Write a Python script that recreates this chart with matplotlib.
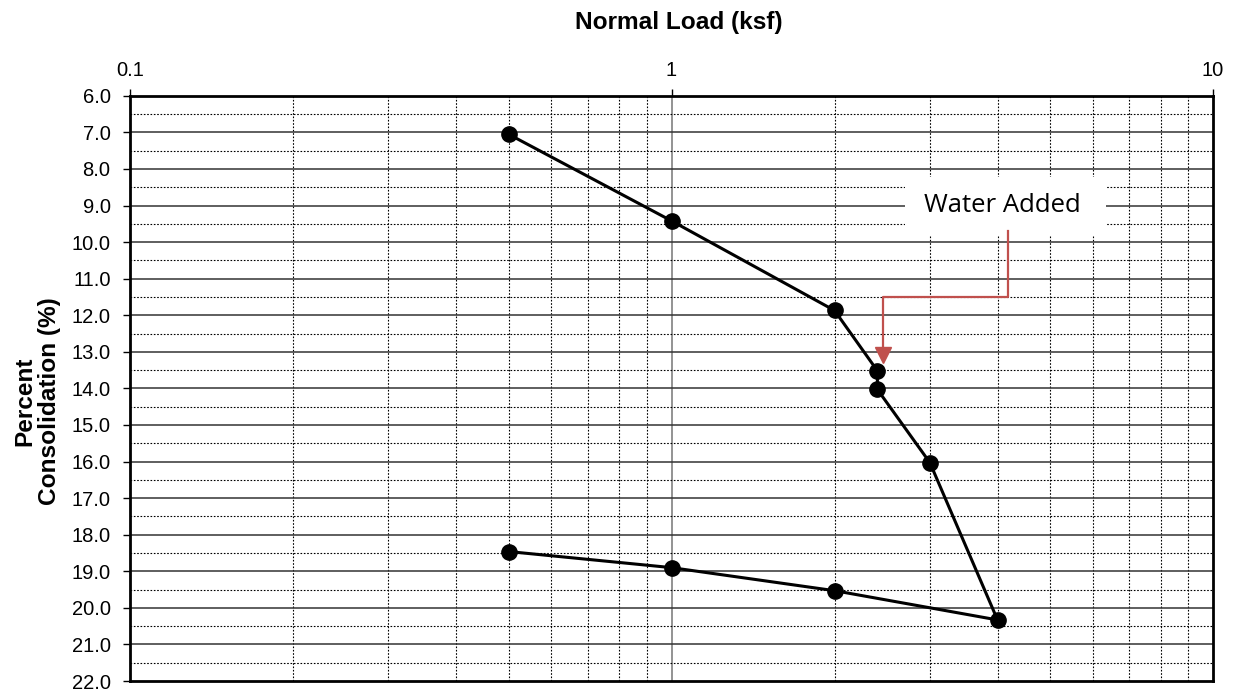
import numpy as np
import matplotlib.pyplot as plt
from matplotlib.patches import Rectangle
from matplotlib.ticker import FixedLocator, NullFormatter, NullLocator

# load steps (ksf) and percent consolidation read at each step
load = [0.5, 1.0, 2.0, 2.4, 2.4, 3.0, 4.0, 2.0, 1.0, 0.5]
consol = [7.05, 9.42, 11.87, 13.52, 14.03, 16.03, 20.33, 19.53, 18.90, 18.46]

x_ticks = [0.1, 1, 10]
x_tick_labels = ['0.1', '1', '10']
y_ticks = np.arange(6, 23, 1)

plt.rcParams['font.family'] = ['Liberation Sans', 'DejaVu Sans']

fig = plt.figure(figsize=(12.35, 6.94), dpi=100)
ax = fig.add_axes([0.1053, 0.0187, 0.8769, 0.8433])

ax.set_xscale('log')
ax.set_xlim(0.1, 10)
ax.set_ylim(22, 6)

# grid: solid at majors, dotted at minors
minor_x = [m * 10.0 ** e for e in (-1, 0) for m in range(2, 10)]
for v in minor_x:
    ax.axvline(v, color='black', lw=0.8, ls=(0, (1.5, 1.5)), zorder=1)
ax.axvline(1, color='#808080', lw=1.2, zorder=1)
for v in y_ticks[1:-1]:
    ax.axhline(v, color='#333333', lw=1.1, zorder=1)
for v in np.arange(6.5, 22, 1):
    ax.axhline(v, color='black', lw=0.8, ls=(0, (1.5, 1.5)), zorder=1)

ax.plot(load, consol, color='black', lw=2.2, marker='o', ms=11,
        zorder=4)

# label box over the grid
ax.add_patch(Rectangle((2.70, 8.22), 6.35 - 2.70, 9.81 - 8.22,
                       facecolor='white', edgecolor='none', zorder=2))
ax.text(4.08, 9.0, 'Water Added', fontsize=18.5, family='Open Sans',
        ha='center', va='center', zorder=3)

# elbow leader to the water step
red = '#C0504D'
ax.plot([4.19, 4.19, 2.46, 2.46], [9.7, 11.51, 11.51, 12.95],
        color=red, lw=1.6, zorder=3)
ax.plot(2.46, 13.1, marker='v', ms=11, color=red, mec=red, zorder=3)

ax.xaxis.tick_top()
ax.xaxis.set_major_locator(FixedLocator(x_ticks))
ax.xaxis.set_minor_locator(NullLocator())
ax.xaxis.set_minor_formatter(NullFormatter())
ax.set_xticklabels(x_tick_labels)
ax.set_yticks(y_ticks)
ax.set_yticklabels([f'{v:.1f}' for v in y_ticks])
ax.tick_params(axis='both', labelsize=14.5, length=5, width=1,
               direction='out')
ax.tick_params(axis='y', pad=9)
ax.tick_params(axis='x', pad=6)

for s in ax.spines.values():
    s.set_linewidth(2)
    s.set_zorder(5)

fig.text(0.550, 0.967, 'Normal Load (ksf)', fontsize=17.6, weight='bold',
         ha='center', va='center')
fig.text(0.030, 0.422, 'Percent\nConsolidation (%)', fontsize=17.6,
         weight='bold', rotation=90, ha='center', va='center',
         linespacing=1.1)

fig.savefig('out.png', dpi=100)
